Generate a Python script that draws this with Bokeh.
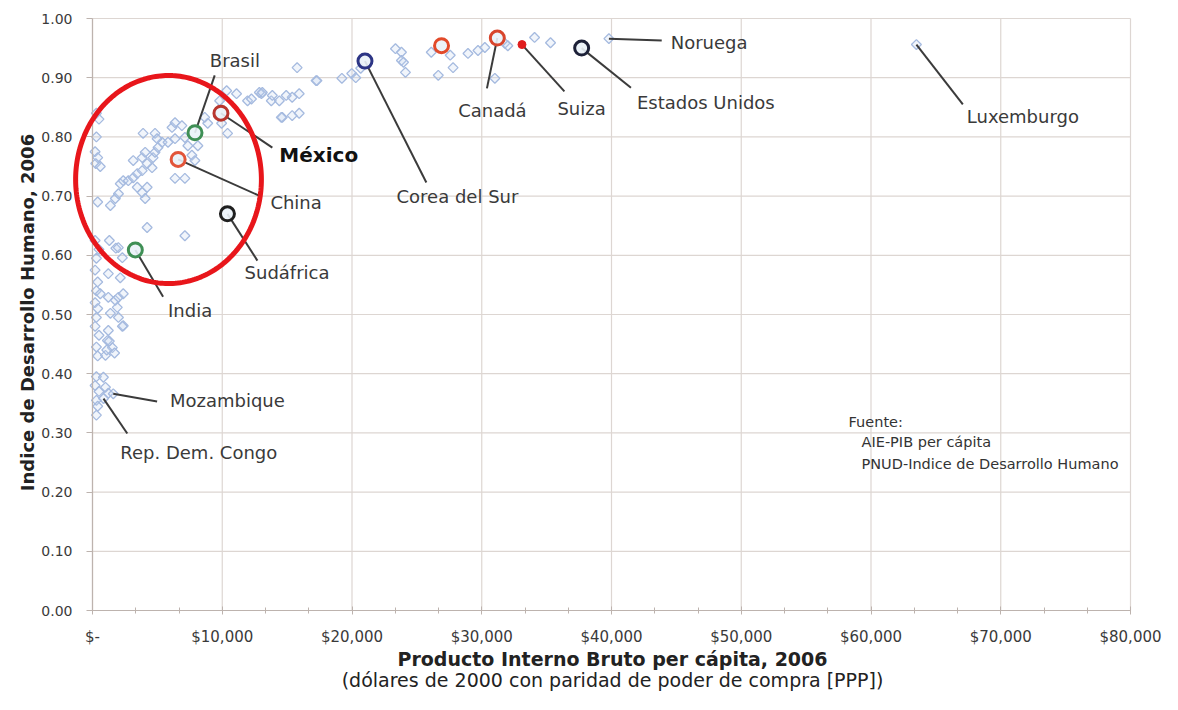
import numpy as np
from bokeh.plotting import figure
from bokeh.models import Range1d, ColumnDataSource, PolyAnnotation, FixedTicker
from bokeh.core.properties import value
from bokeh.embed import file_html
from bokeh.resources import INLINE

# ---------------- data ----------------
# background countries: GDP per capita (PPP, 2000 USD) and HDI 2006
bg_gdp = [
    300, 500, 300, 200, 400, 250, 600, 400, 200, 500, 300, 200, 400, 300, 600, 200, 400,
    300, 200, 500, 300, 400, 300, 200, 500, 300, 400, 300,
    1300, 1800, 1220, 2140, 1220, 1760, 2000, 2370, 1910, 1380, 2000, 2370, 1220, 1150,
    1530, 1000, 840, 1000, 1220, 1990, 2300, 2300, 1300, 850, 1600, 1100, 1700,
    1380, 1760, 2000, 2140, 2370, 2760, 3140, 3450, 3830, 3450, 3830, 4210, 4060, 4590,
    4210, 3140, 3830, 4670, 4060, 4820, 5050, 5360, 3900, 4820, 4980, 5820, 6360, 6130,
    6360, 6890, 7120, 7350, 7660, 7890, 6360, 7120, 4210, 7120, 8120, 8880, 8650, 9950,
    10410, 11100, 11950, 13020, 13780, 9800, 10340,
    15770, 17230, 19220, 19980, 20670, 12860, 13860, 14400, 15390, 15930, 14630, 15390,
    15930, 12250, 13090, 14930, 14550, 17300, 20290,
    23350, 23810, 23810, 24120, 23970, 26110, 27570, 27790, 26650, 28940, 29710, 30240,
    31010, 31780, 32010, 34070, 35300, 39800, 63500,
]
bg_hdi = [
    0.840, 0.830, 0.800, 0.775, 0.765, 0.755, 0.750, 0.690, 0.625, 0.610, 0.595, 0.575,
    0.555, 0.540, 0.535, 0.520, 0.510, 0.495, 0.480, 0.465, 0.445, 0.430, 0.395, 0.380,
    0.370, 0.355, 0.345, 0.330,
    0.625, 0.612, 0.569, 0.562, 0.529, 0.524, 0.529, 0.535, 0.512, 0.502, 0.495, 0.481,
    0.473, 0.456, 0.444, 0.431, 0.394, 0.377, 0.367, 0.613, 0.596, 0.480, 0.455, 0.358,
    0.366, 0.440, 0.435,
    0.684, 0.696, 0.704, 0.721, 0.726, 0.726, 0.731, 0.738, 0.743, 0.715, 0.706, 0.715,
    0.696, 0.748, 0.755, 0.760, 0.765, 0.765, 0.774, 0.774, 0.782, 0.791, 0.806, 0.806,
    0.797, 0.791, 0.797, 0.816, 0.824, 0.819, 0.799, 0.785, 0.769, 0.760, 0.730, 0.730,
    0.647, 0.633, 0.785, 0.823, 0.833, 0.823, 0.806, 0.873, 0.861, 0.873, 0.861, 0.861,
    0.878,
    0.917, 0.895, 0.899, 0.907, 0.916, 0.875, 0.870, 0.861, 0.867, 0.873, 0.833, 0.836,
    0.840, 0.864, 0.875, 0.870, 0.833, 0.895, 0.900,
    0.949, 0.943, 0.929, 0.909, 0.926, 0.943, 0.938, 0.917, 0.904, 0.941, 0.946, 0.951,
    0.899, 0.958, 0.954, 0.968, 0.959, 0.966, 0.956,
]

# highlighted countries (circles)
hl_names = ["Brasil", "México", "China", "Sudáfrica", "India", "Corea del Sur",
            "", "Canadá", "Estados Unidos"]
hl_gdp = [7900, 9900, 6600, 10400, 3300, 21000, 26900, 31200, 37700]
hl_hdi = [0.807, 0.840, 0.762, 0.670, 0.609, 0.928, 0.954, 0.967, 0.950]
hl_colors = ["#3f8f55", "#b8362e", "#e2553a", "#1f1f1f", "#3f8f55", "#2d3585",
             "#e24a2a", "#d8452c", "#1d2138"]

suiza_gdp = [33100]
suiza_hdi = [0.956]

# annotated countries: anchor point, label text
lab_text = ["Brasil", "México", "China", "Sudáfrica", "India", "Mozambique",
            "Rep. Dem. Congo", "Corea del Sur", "Canadá", "Suiza", "Estados Unidos",
            "Noruega", "Luxemburgo"]
lab_pt_gdp = [7900, 9900, 6600, 10400, 3300, 1600, 850, 21000, 31200, 33100, 37700,
              39800, 63500]
lab_pt_hdi = [0.807, 0.840, 0.762, 0.670, 0.609, 0.366, 0.358, 0.928, 0.967, 0.956,
              0.950, 0.966, 0.956]

x_ticks = [0, 10000, 20000, 30000, 40000, 50000, 60000, 70000, 80000]
x_tick_labels = ["$-", "$10,000", "$20,000", "$30,000", "$40,000", "$50,000",
                 "$60,000", "$70,000", "$80,000"]
y_ticks = [0.0, 0.1, 0.2, 0.3, 0.4, 0.5, 0.6, 0.7, 0.8, 0.9, 1.0]

x_title = "Producto Interno Bruto per cápita, 2006"
x_subtitle = "(dólares de 2000 con paridad de poder de compra [PPP])"
y_title = "Indice de Desarrollo Humano, 2006"
source_lines = ["Fuente:", "AIE-PIB per cápita", "PNUD-Indice de Desarrollo Humano"]

# ---------------- layout of annotations ----------------
lab_x = [9040, 14400, 13710, 11720, 5820, 5970, 2140, 23430, 28180, 35830, 41960, 44560, 67380]
lab_y = [0.929, 0.769, 0.689, 0.571, 0.507, 0.355, 0.267, 0.699, 0.845, 0.848, 0.858, 0.959, 0.834]
lead_x = [9420, 13860, 13020, 12710, 5440, 4980, 2680, 25730, 30400, 36370, 41500, 43870, 67080]
lead_y = [0.904, 0.782, 0.699, 0.591, 0.530, 0.353, 0.299, 0.723, 0.882, 0.877, 0.883, 0.963, 0.855]

FONT = "DejaVu Sans"
TXT = "#3a3a3a"
AXC = "#bdb3ae"
GRIDC = "#ddd6d2"

# pixel layout: the frame covers the whole canvas, axes sit at x=0 / y=0
W, H = 1162, 694
X0PX, X1PX = 92, 1130      # canvas x of GDP 0 and 80,000
Y0PX, Y1PX = 610, 18       # canvas y of HDI 0 and 1
dpp = 80000 / (X1PX - X0PX)
ypp = 1.0 / (Y0PX - Y1PX)

p = figure(width=W, height=H, output_backend="svg", toolbar_location=None,
           x_range=Range1d(-X0PX * dpp, 80000 + (W - X1PX) * dpp),
           y_range=Range1d(-(H - Y0PX) * ypp, 1.0 + Y1PX * ypp),
           min_border=0, min_border_left=0, min_border_right=0, min_border_top=0,
           min_border_bottom=0)
p.outline_line_color = None
p.background_fill_color = "white"
p.xgrid.visible = False
p.ygrid.visible = False

# grid lines limited to the data area
nx, ny = len(x_ticks), len(y_ticks)
p.segment(x0=x_ticks, y0=[0] * nx, x1=x_ticks, y1=[1.0] * nx,
          line_color=GRIDC, line_width=1.2)
p.segment(x0=[0] * ny, y0=y_ticks, x1=[80000] * ny, y1=y_ticks,
          line_color=GRIDC, line_width=1.2)

# axes fixed at the data origin
for axis in (p.xaxis[0], p.yaxis[0]):
    axis.fixed_location = 0
    axis.axis_line_color = AXC
    axis.axis_line_width = 1.2
    axis.major_tick_line_color = AXC
    axis.minor_tick_line_color = AXC
    axis.major_label_text_font = FONT
    axis.major_label_text_color = TXT

xa = p.xaxis[0]
xa.bounds = (0, 80000)
xa.ticker = FixedTicker(ticks=x_ticks, minor_ticks=list(np.arange(0, 80001, 10000 / 3)))
xa.major_label_overrides = {t: l for t, l in zip(x_ticks, x_tick_labels)}
xa.major_tick_in = 4
xa.major_tick_out = 4
xa.minor_tick_in = 3
xa.minor_tick_out = 3
xa.major_label_text_font_size = "15px"
xa.major_label_standoff = 13

ya = p.yaxis[0]
ya.bounds = (0, 1.0)
ya.ticker = FixedTicker(ticks=y_ticks)
ya.major_label_overrides = {t: f"{t:.2f}" for t in y_ticks}
ya.major_tick_in = 0
ya.major_tick_out = 6
ya.minor_tick_line_color = None
ya.major_label_text_font_size = "14px"
ya.major_label_standoff = 14

# axis titles
p.text(x=[(612 - X0PX) * dpp] * 2, y=[-(658 - Y0PX) * ypp, -(679 - Y0PX) * ypp],
       text=[x_title, x_subtitle], text_font=value(FONT),
       text_font_size=["19px", "19px"], text_font_style=["bold", "normal"],
       text_color="#222222", text_align="center", text_baseline="middle")
p.text(x=[-(92 - 27) * dpp], y=[(Y0PX - 312) * ypp], text=[y_title],
       text_font=value(FONT), text_font_size="18px", text_font_style="bold",
       text_color="#222222", text_align="center", text_baseline="middle",
       angle=np.pi / 2)

# background points
p.scatter(bg_gdp, bg_hdi, marker="square", angle=np.pi / 4, size=7,
          line_color="#a5badf", line_width=1.3, fill_color="#c9d6ee", fill_alpha=0.25)

# leader lines
p.segment(x0=lab_pt_gdp, y0=lab_pt_hdi, x1=lead_x, y1=lead_y,
          line_color="#3b3b3b", line_width=2)

# highlighted circles
p.scatter(hl_gdp, hl_hdi, marker="circle", size=14, line_color=hl_colors,
          line_width=3, fill_color="#eaf2f8", fill_alpha=0.9)
p.scatter(suiza_gdp, suiza_hdi, marker="circle", size=8, line_color="#e01e1e",
          fill_color="#e01e1e")

# country labels
styles = ["bold" if t == "México" else "normal" for t in lab_text]
sizes = ["20px" if t == "México" else "18px" for t in lab_text]
colors = ["#111111" if t == "México" else TXT for t in lab_text]
src = ColumnDataSource(dict(x=lab_x, y=lab_y, text=lab_text, style=styles,
                            size=sizes, color=colors))
p.text("x", "y", text="text", source=src, text_font=value(FONT),
       text_font_size="size", text_font_style="style", text_color="color",
       text_baseline="middle", text_align="left")

# source note
src_x = [58270, 59270, 59270]
src_y = [0.319, 0.285, 0.248]
p.text(src_x, src_y, text=source_lines, text_font=value(FONT), text_font_size="14.5px",
       text_color="#333333", text_baseline="middle", text_align="left")

# red ellipse highlighting the emerging economies
ell_cx, ell_cy, ell_rx, ell_ry = 5858, 0.728, 7159, 0.1757
th = np.linspace(0, 2 * np.pi, 240)
p.add_layout(PolyAnnotation(xs=list(ell_cx + ell_rx * np.cos(th)),
                            ys=list(ell_cy + ell_ry * np.sin(th)),
                            fill_alpha=0, line_color="#e8161b", line_alpha=1.0,
                            line_width=5))

open("out.html", "w").write(file_html(p, INLINE))
